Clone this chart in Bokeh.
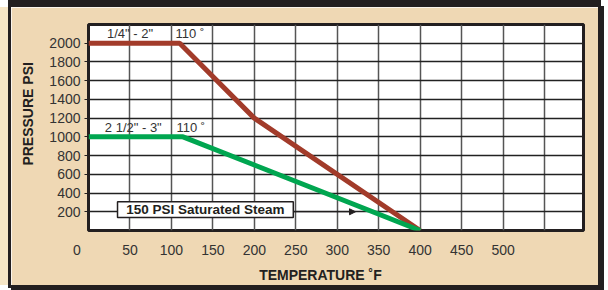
from bokeh.plotting import figure
from bokeh.models import FixedTicker, Label, Arrow, NormalHead, Range1d
from bokeh.embed import file_html
from bokeh.resources import INLINE

# ---- data ----
temp_small = [0, 110, 200, 400]          # 1/4" - 2"
psi_small = [2000, 2000, 1200, 0]
temp_large = [0, 114, 400]               # 2 1/2" - 3"
psi_large = [1000, 1000, 0]
x_tick_values = [0, 50, 100, 150, 200, 250, 300, 350, 400, 450, 500]
x_grid_values = [50, 100, 150, 200, 250, 300, 350, 400, 450, 500, 550]
y_tick_values = [200, 400, 600, 800, 1000, 1200, 1400, 1600, 1800, 2000]

FONT = "Liberation Sans"
DARK = "#231f20"
TXT = "#333333"
NB = "\u00a0"

p = figure(width=587, height=278, x_range=Range1d(0, 597), y_range=Range1d(0, 2200),
           output_backend="svg", toolbar_location=None,
           min_border_left=77, min_border_right=15, min_border_top=17, min_border_bottom=53)
p.styles = {"margin-left": "11px", "margin-top": "7px",
            "box-shadow": (f"0 0 0 3px {DARK}, 3px 2px 0 3px {DARK}, "
                           f"0 -4px 0 3px {DARK}, -11px 0 0 0 #F6E6C6")}

p.background_fill_color = "white"
p.border_fill_color = "#EFD8B4"
p.outline_line_color = DARK
p.outline_line_width = 3

# axes
p.xaxis.ticker = FixedTicker(ticks=x_tick_values)
p.xaxis.major_label_overrides = {0: "0" + NB * 6}
p.xaxis.major_tick_line_color = None
p.xaxis.minor_tick_line_color = None
p.xaxis.axis_line_color = None
p.xaxis.major_label_standoff = 5
p.xaxis.axis_label = "TEMPERATURE ˚F" + NB * 8
p.xaxis.axis_label_standoff = 6
p.yaxis.ticker = FixedTicker(ticks=y_tick_values)
p.yaxis.major_tick_out = 4
p.yaxis.major_tick_in = 0
p.yaxis.major_tick_line_color = DARK
p.yaxis.minor_tick_line_color = None
p.yaxis.axis_line_color = None
p.yaxis.major_label_standoff = 4
p.yaxis.axis_label = NB * 7 + "PRESSURE PSI"
p.yaxis.axis_label_standoff = 10
for ax in (p.xaxis, p.yaxis):
    ax.major_label_text_font = FONT
    ax.major_label_text_font_size = "14px"
    ax.major_label_text_color = TXT
    ax.axis_label_text_font = FONT
    ax.axis_label_text_font_size = "14px"
    ax.axis_label_text_font_style = "bold"
    ax.axis_label_text_color = DARK

# grid
p.xgrid.ticker = FixedTicker(ticks=x_grid_values)
p.xgrid.grid_line_color = "#555555"
p.xgrid.grid_line_width = 1.5
p.ygrid.ticker = FixedTicker(ticks=y_tick_values)
p.ygrid.grid_line_color = "#222222"
p.ygrid.grid_line_width = 1.5

# saturated steam box + arrow
p.quad(left=35, right=247, bottom=138, top=307, fill_color="white",
       line_color=DARK, line_width=1.5)
p.add_layout(Arrow(end=NormalHead(size=6, fill_color=DARK, line_color=DARK),
                   x_start=247, y_start=200, x_end=322, y_end=200,
                   line_color=DARK, line_width=1.2))

# pressure lines
p.line(temp_small, psi_small, line_color="#A23B2A", line_width=5)
p.line(temp_large, psi_large, line_color="#00A650", line_width=5)

def lab(x, y, text, size="13px", bold=False, align="center"):
    p.add_layout(Label(x=x, y=y, text=text, text_font=FONT, text_font_size=size,
                       text_font_style="bold" if bold else "normal",
                       text_color=DARK if bold else TXT, text_align=align,
                       text_baseline="middle"))

lab(141, 221, "150 PSI Saturated Steam", size="13.5px", bold=True)
lab(50, 2105, '1/4" - 2"')
lab(105, 2105, "110 ˚", align="left")
lab(54, 1100, '2 1/2" - 3"')
lab(106, 1100, "110 ˚", align="left")

open("out.html", "w").write(file_html(p, INLINE))
